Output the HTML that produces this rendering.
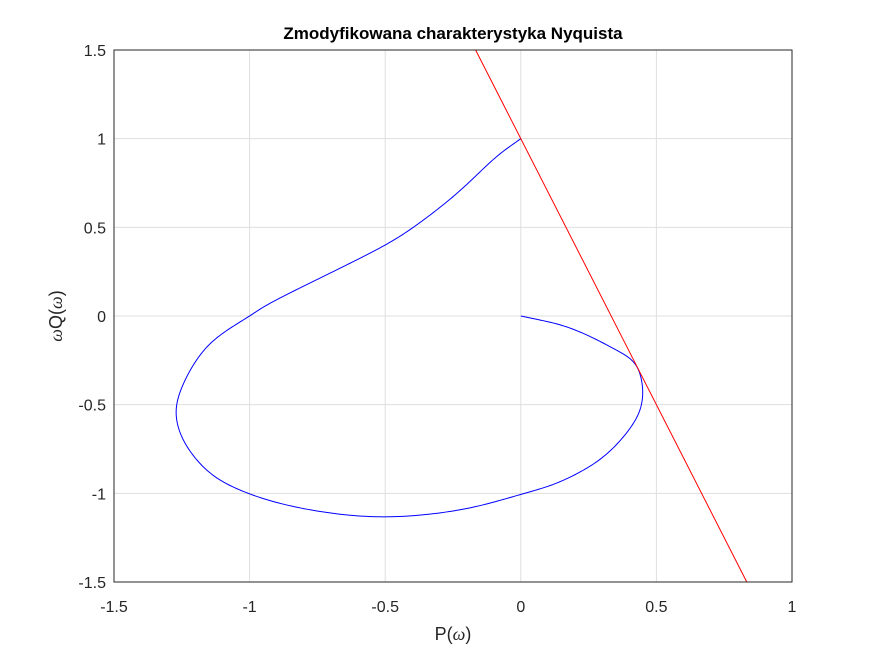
<!DOCTYPE html>
<html><head><meta charset="utf-8"><style>
body{margin:0;background:#fff;}
svg{display:block;font-family:"Liberation Sans",Arial,sans-serif;}
</style></head><body>
<svg id="chart" width="875" height="656" viewBox="0 0 875 656">
<rect width="875" height="656" fill="#fff"/>
<g id="grid"></g>
<g id="series"></g>
<rect x="114" y="50" width="678" height="532" fill="none" stroke="#262626" stroke-width="1"/>
<g id="ticks"></g>
<text x="453" y="39" text-anchor="middle" font-size="17" font-weight="bold" fill="#000">Zmodyfikowana charakterystyka Nyquista</text>
<text x="453" y="640" text-anchor="middle" font-size="18" fill="#262626">P(<tspan font-family="Liberation Serif" font-style="italic">ω</tspan>)</text>
<text transform="translate(62,316) rotate(-90)" text-anchor="middle" font-size="18" fill="#262626"><tspan font-family="Liberation Serif" font-style="italic">ω</tspan>Q(<tspan font-family="Liberation Serif" font-style="italic">ω</tspan>)</text>
</svg>
<script>
const xTicks=[-1.5,-1,-0.5,0,0.5,1];
const yTicks=[-1.5,-1,-0.5,0,0.5,1,1.5];
const xTickLabels=["-1.5","-1","-0.5","0","0.5","1"];
const yTickLabels=["-1.5","-1","-0.5","0","0.5","1","1.5"];
const curveP=[0,0.169,0.329,0.421,0.449,0.44,0.39,0.292,0.145,0,-0.224,-0.507,-0.776,-1.0,-1.146,-1.245,-1.272,-1.232,-1.146,-1.0,-0.925,-0.679,-0.5,-0.396,-0.236,-0.089,0];
const curveQ=[0,-0.06,-0.173,-0.266,-0.399,-0.53,-0.66,-0.81,-0.935,-1.006,-1.094,-1.134,-1.094,-1.004,-0.887,-0.70,-0.53,-0.342,-0.154,0,0.072,0.26,0.40,0.50,0.69,0.90,1.0];
const lineP=[-0.1667,0.8333];
const lineQ=[1.5,-1.5];
const NS='http://www.w3.org/2000/svg';
const X0=114,X1=792,Y0=582,Y1=50;
const sx=v=>X0+(v+1.5)/2.5*(X1-X0);
const sy=v=>Y0-(v+1.5)/3*(Y0-Y1);
function mk(t,a,p){const e=document.createElementNS(NS,t);for(const k in a)e.setAttribute(k,a[k]);p.appendChild(e);return e;}
const g=document.getElementById('grid'),tk=document.getElementById('ticks'),s=document.getElementById('series');
xTicks.forEach((v,i)=>{
 const l=mk('line',{x1:sx(v),x2:sx(v),y1:Y1,y2:Y0,stroke:'#dfdfdf'},g);
 
 
 const t=mk('text',{x:sx(v),y:612,'text-anchor':'middle','font-size':16,fill:'#262626'},tk);
 t.textContent=xTickLabels[i];
 
 
});
yTicks.forEach((v,i)=>{
 const l=mk('line',{x1:X0,x2:X1,y1:sy(v),y2:sy(v),stroke:'#dfdfdf'},g);
 
 
 const t=mk('text',{x:106,y:sy(v)+6,'text-anchor':'end','font-size':16,fill:'#262626'},tk);
 t.textContent=yTickLabels[i];
 
 
});
// centripetal Catmull-Rom sampled, then lightly smoothed
const pts=curveP.map((p,i)=>[sx(p),sy(curveQ[i])]);
const ext=[[2*pts[0][0]-pts[1][0],2*pts[0][1]-pts[1][1]],...pts,[2*pts[pts.length-1][0]-pts[pts.length-2][0],2*pts[pts.length-1][1]-pts[pts.length-2][1]]];
function tj(ti,a,b){return ti+Math.pow(Math.hypot(b[0]-a[0],b[1]-a[1]),0.5)+1e-6;}
const out=[pts[0]];
for(let i=1;i<ext.length-2;i++){
 const P0=ext[i-1],P1=ext[i],P2=ext[i+1],P3=ext[i+2];
 const t0=0,t1=tj(t0,P0,P1),t2=tj(t1,P1,P2),t3=tj(t2,P2,P3);
 for(let k=1;k<=20;k++){
  const t=t1+(t2-t1)*k/20;
  const L=(A,B,ta,tb)=>[A[0]*(tb-t)/(tb-ta)+B[0]*(t-ta)/(tb-ta),A[1]*(tb-t)/(tb-ta)+B[1]*(t-ta)/(tb-ta)];
  const A1=L(P0,P1,t0,t1),A2=L(P1,P2,t1,t2),A3=L(P2,P3,t2,t3);
  const B1=L(A1,A2,t0,t2),B2=L(A2,A3,t1,t3);
  out.push(L(B1,B2,t1,t2));
 }
}
const W=8,sm=out.map((p,i)=>{
 let wx=0,wy=0,ws=0;
 for(let j=-W;j<=W;j++){const k=i+j;if(k<0||k>=out.length)continue;const w=W+1-Math.abs(j);wx+=out[k][0]*w;wy+=out[k][1]*w;ws+=w;}
 return [wx/ws,wy/ws];
});
sm[0]=out[0];sm[sm.length-1]=out[out.length-1];
const c=mk('polyline',{points:sm.map(p=>p[0].toFixed(2)+','+p[1].toFixed(2)).join(' '),fill:'none',stroke:'#0000ff','stroke-width':1},s);


const rl=mk('line',{x1:sx(lineP[0]),y1:sy(lineQ[0]),x2:sx(lineP[1]),y2:sy(lineQ[1]),stroke:'#ff0000','stroke-width':1},s);


</script>
</body></html>
